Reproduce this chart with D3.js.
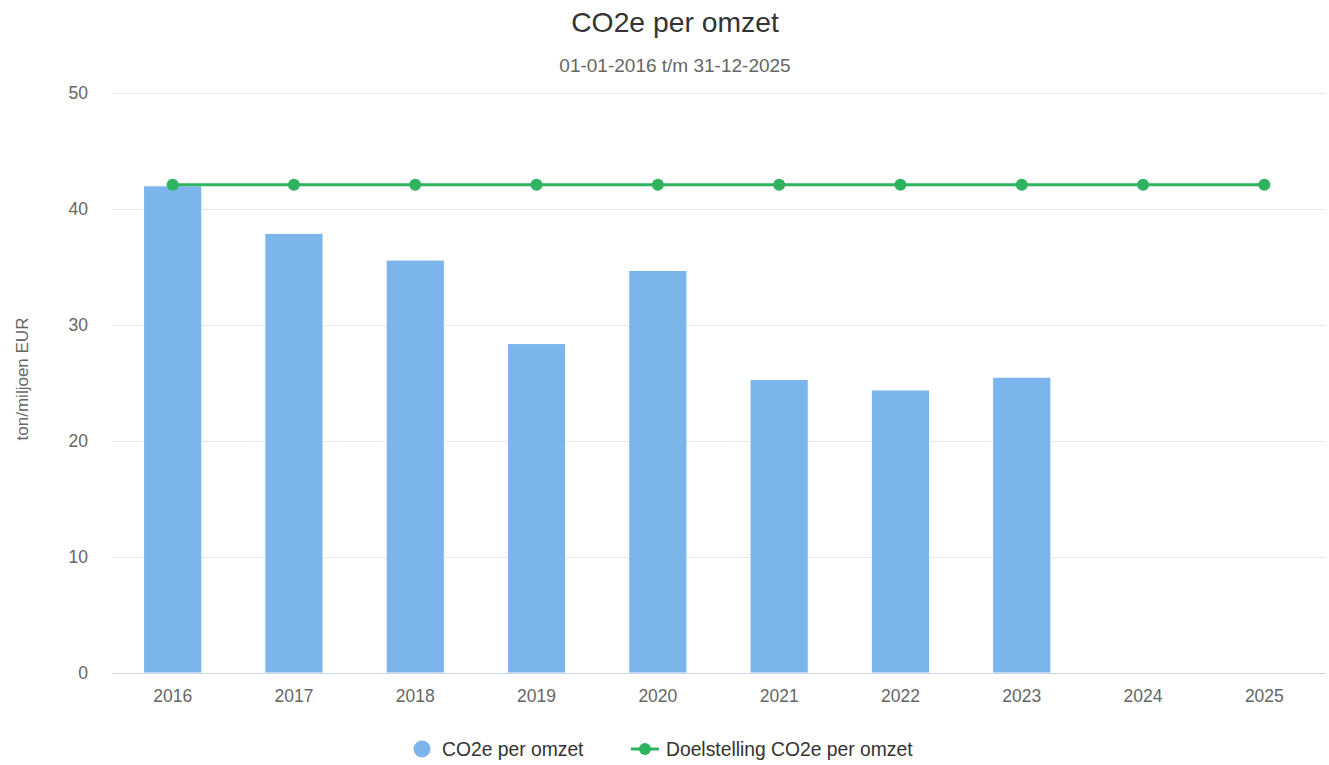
<!DOCTYPE html>
<html>
<head>
<meta charset="utf-8">
<script src="https://cdn.jsdelivr.net/npm/d3@7"></script>
<style>
  body { margin: 0; background: #fff; }
  svg { font-family: "Liberation Sans", Arial, Helvetica, sans-serif; }
</style>
</head>
<body>
<svg id="chart" width="1329" height="765"></svg>
<script>
const years = ['2016', '2017', '2018', '2019', '2020', '2021', '2022', '2023', '2024', '2025']
const co2PerOmzet = [42.0, 37.9, 35.6, 28.4, 34.7, 25.3, 24.4, 25.5, null, null]
const doelstelling = [42.1, 42.1, 42.1, 42.1, 42.1, 42.1, 42.1, 42.1, 42.1, 42.1]
const yTicks = [0, 10, 20, 30, 40, 50]

const barColor = '#7cb5ec'
const lineColor = '#2fb35f'

const svg = d3.select('#chart')
const width = 1329
const margin = {left: 112, right: 4, top: 93, bottom: 92}
const plotBottom = 673

const x = d3.scaleBand().domain(years).range([margin.left, width - margin.right])
const y = d3.scaleLinear().domain([0, 50]).range([plotBottom, margin.top])

// title + subtitle
svg.append('text')
  .attr('x', 675).attr('y', 32)
  .attr('text-anchor', 'middle')
  .attr('font-size', 28.3).attr('fill', '#333')
  .text('CO2e per omzet')

svg.append('text')
  .attr('x', 675).attr('y', 72)
  .attr('text-anchor', 'middle')
  .attr('font-size', 19).attr('fill', '#666')
  .text('01-01-2016 t/m 31-12-2025')

// grid lines + y labels
const yAxis = d3.axisLeft(y).tickValues(yTicks).tickSize(-(width - margin.right - margin.left)).tickPadding(24)
const gy = svg.append('g')
  .attr('transform', 'translate(' + margin.left + ',0)')
  .call(yAxis)
gy.select('.domain').remove()
gy.selectAll('.tick line').attr('stroke', '#e6e6e6')
gy.selectAll('.tick text').attr('font-size', 17.5).attr('fill', '#666').attr('font-family', null)

svg.append('text')
  .attr('transform', 'translate(28,' + ((margin.top + plotBottom) / 2 - 4) + ') rotate(-90)')
  .attr('text-anchor', 'middle')
  .attr('font-size', 17).attr('fill', '#666')
  .text('ton/miljoen EUR')

// bars
const barWidth = x.bandwidth() * 0.48
svg.append('g').selectAll('rect')
  .data(years.map((d, i) => ({year: d, value: co2PerOmzet[i]})).filter(d => d.value != null))
  .enter()
  .append('rect')
  .attr('x', d => x(d.year) + (x.bandwidth() - barWidth) / 2)
  .attr('y', d => y(d.value))
  .attr('width', barWidth)
  .attr('height', d => y(0) - y(d.value))
  .attr('fill', barColor)
  .attr('stroke', '#fff')
  .attr('stroke-width', 1)

// x axis
const xAxis = d3.axisBottom(x).tickSize(0).tickPadding(17)
const gx = svg.append('g')
  .attr('transform', 'translate(0,' + plotBottom + ')')
  .call(xAxis)
gx.select('.domain').attr('stroke', '#ccd6eb')
gx.selectAll('.tick text').attr('font-size', 17.5).attr('fill', '#666').attr('font-family', null)

// target line
const lineData = years.map((d, i) => ({year: d, value: doelstelling[i]}))
svg.append('path')
  .datum(lineData)
  .attr('fill', 'none')
  .attr('stroke', lineColor)
  .attr('stroke-width', 3)
  .attr('d', d3.line().x(d => x(d.year) + x.bandwidth() / 2).y(d => y(d.value)))

svg.append('g').selectAll('circle')
  .data(lineData)
  .enter()
  .append('circle')
  .attr('cx', d => x(d.year) + x.bandwidth() / 2)
  .attr('cy', d => y(d.value))
  .attr('r', 6)
  .attr('fill', lineColor)

// legend
const legend = svg.append('g').attr('font-size', 19.3).attr('fill', '#333')
legend.append('circle').attr('cx', 422).attr('cy', 749).attr('r', 8.5).attr('fill', barColor)
legend.append('text').attr('x', 442).attr('y', 756).text('CO2e per omzet')
legend.append('line').attr('x1', 631).attr('x2', 659).attr('y1', 749).attr('y2', 749)
  .attr('stroke', lineColor).attr('stroke-width', 3)
legend.append('circle').attr('cx', 645).attr('cy', 749).attr('r', 6).attr('fill', lineColor)
legend.append('text').attr('x', 666).attr('y', 756).text('Doelstelling CO2e per omzet')
</script>
</body>
</html>
